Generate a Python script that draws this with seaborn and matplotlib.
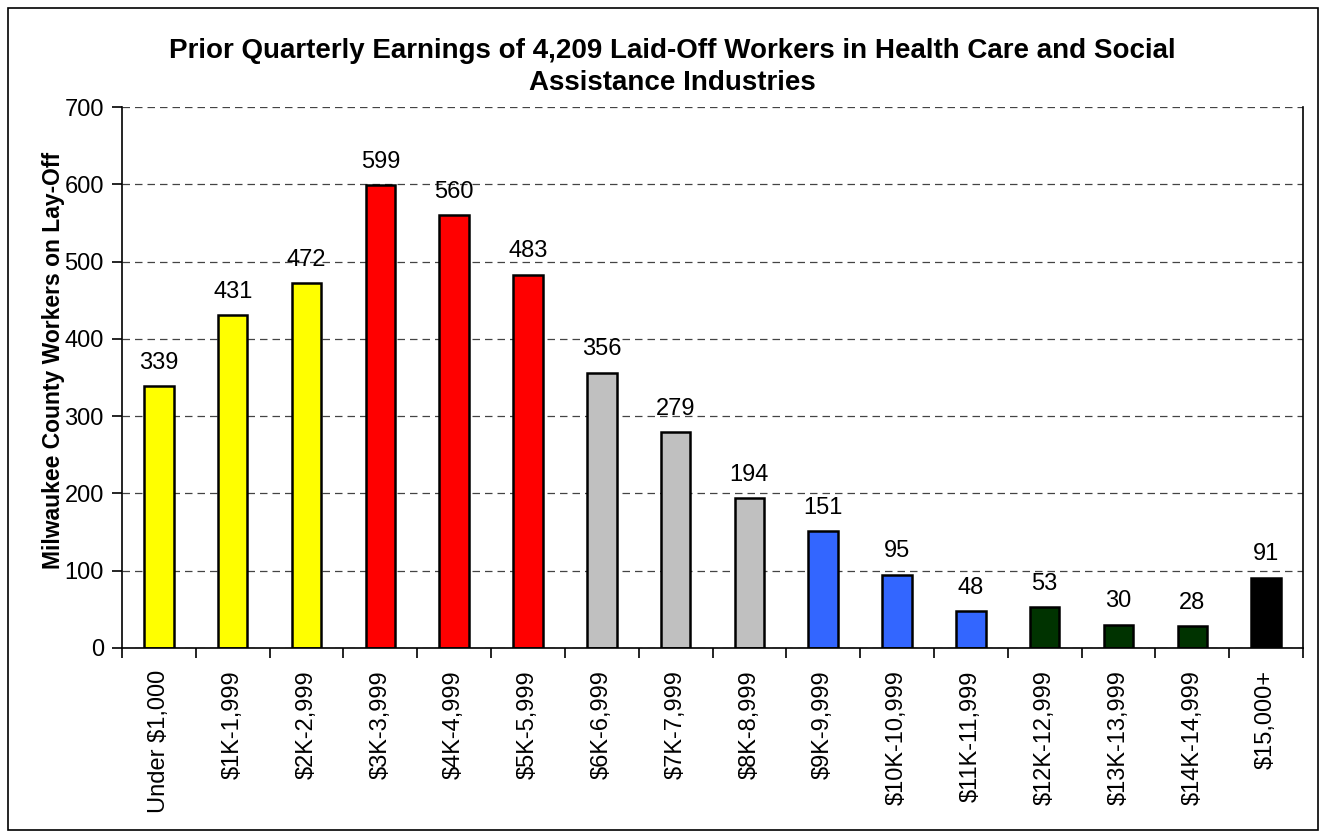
import matplotlib
matplotlib.use("Agg")
import matplotlib.pyplot as plt
import seaborn as sns
import pandas as pd
from matplotlib.patches import Rectangle

categories = ["Under $1,000", "$1K-1,999", "$2K-2,999", "$3K-3,999", "$4K-4,999",
              "$5K-5,999", "$6K-6,999", "$7K-7,999", "$8K-8,999", "$9K-9,999",
              "$10K-10,999", "$11K-11,999", "$12K-12,999", "$13K-13,999",
              "$14K-14,999", "$15,000+"]
values = [339, 431, 472, 599, 560, 483, 356, 279, 194, 151, 95, 48, 53, 30, 28, 91]
bar_colors = ["#FFFF00", "#FFFF00", "#FFFF00", "#FF0000", "#FF0000", "#FF0000",
              "#C0C0C0", "#C0C0C0", "#C0C0C0", "#3366FF", "#3366FF", "#3366FF",
              "#003300", "#003300", "#003300", "#000000"]
title = "Prior Quarterly Earnings of 4,209 Laid-Off Workers in Health Care and Social\nAssistance Industries"
ylabel = "Milwaukee County Workers on Lay-Off"

sns.set_theme(style="white")
plt.rcParams['font.family'] = ['Liberation Sans', 'DejaVu Sans']
plt.rcParams['text.color'] = 'black'
plt.rcParams['axes.labelcolor'] = 'black'
plt.rcParams['xtick.color'] = 'black'
plt.rcParams['ytick.color'] = 'black'

df = pd.DataFrame({"cat": categories, "val": values})

fig = plt.figure(figsize=(13.22, 8.35), dpi=100)
ax = fig.add_axes([122/1322, 1-648/835, (1303-122)/1322, (648-107)/835])

sns.barplot(data=df, x="cat", y="val", hue="cat", palette=bar_colors, legend=False,
            width=0.4, edgecolor="black", linewidth=1.8, ax=ax, saturation=1)

ax.set_ylim(0, 700)
ax.set_xlim(-0.5, len(categories) - 0.5)
ax.set_yticks(range(0, 701, 100))
ax.yaxis.grid(True, linestyle=(0, (6, 4)), color="#444444", linewidth=0.9)
ax.set_axisbelow(True)

for i, v in enumerate(values):
    ax.text(i, v + 16, str(v), ha="center", va="bottom", fontsize=17, color="black")

ax.set_xticks(range(len(categories)))
ax.set_xticklabels(categories, rotation=90, fontsize=17)
ax.tick_params(axis="x", which="major", length=0, pad=16)
ax.set_xticks([i - 0.5 for i in range(len(categories) + 1)], minor=True)
ax.tick_params(axis="x", which="minor", length=7, width=1.2, direction="out",
               color="black", bottom=True, top=False)
ax.tick_params(axis="y", length=7, width=1.2, direction="out", color="black",
               left=True, right=False, labelsize=17, pad=6)

for s in ["left", "bottom", "right"]:
    ax.spines[s].set_color("black")
    ax.spines[s].set_linewidth(1.2)
ax.spines["top"].set_visible(False)

ax.set_xlabel("")
ax.set_ylabel("")
fig.text(54/1322, 1-360/835, ylabel, rotation=90, ha="center", va="center",
         fontsize=16.5, fontweight="bold", color="black")
fig.text(672/1322, 1-67/835, title, ha="center", va="center", fontsize=20,
         fontweight="bold", linespacing=1.3, color="black")

fig.patches.append(Rectangle((8/1322, 1-830/835), (1318-8)/1322, (830-8)/835,
                             transform=fig.transFigure, fill=False,
                             edgecolor="black", linewidth=1.2))

fig.savefig("out.png", dpi=100)
